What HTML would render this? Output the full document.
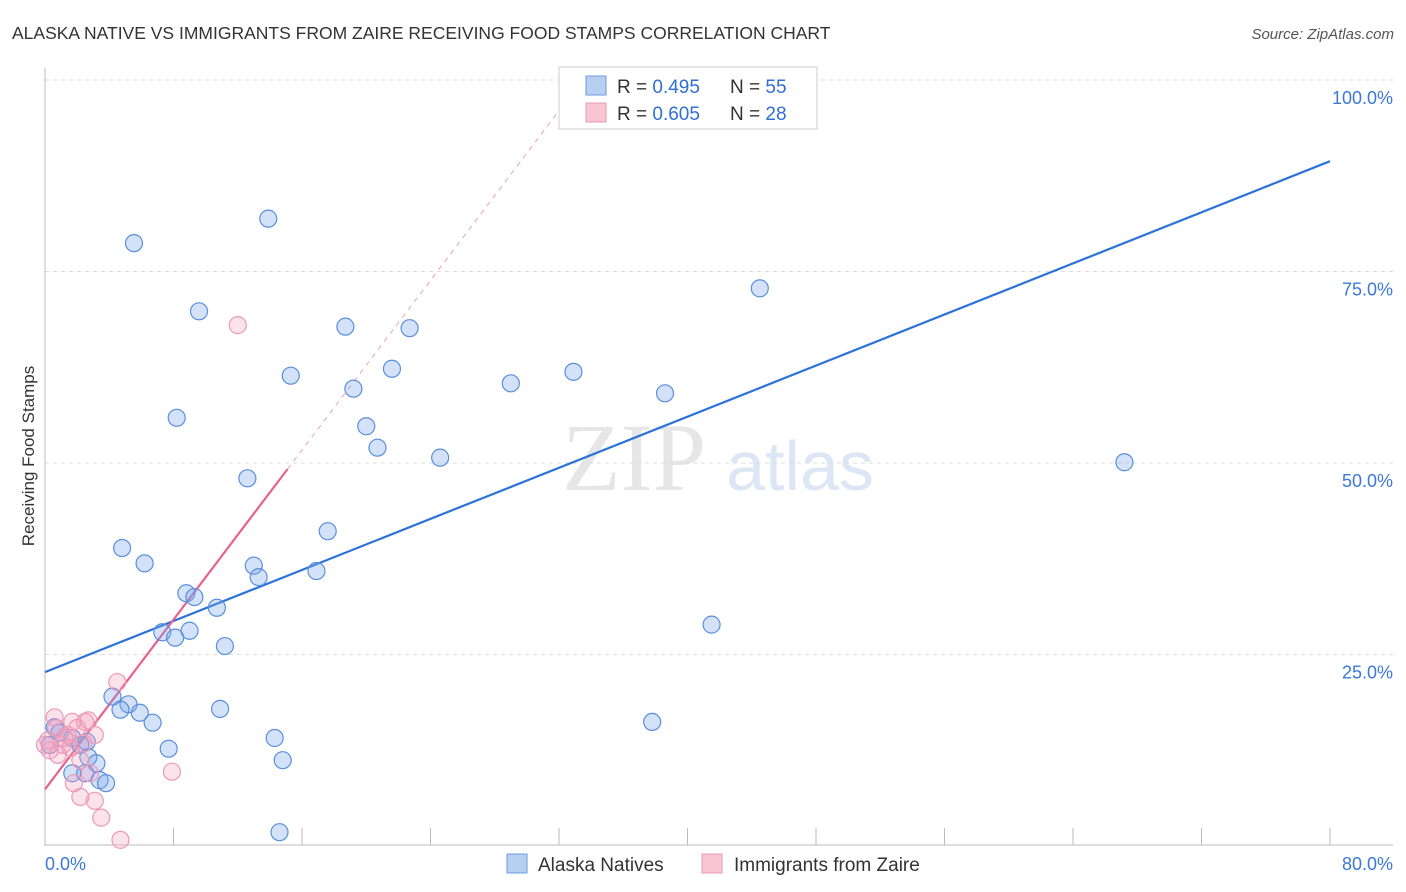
<!DOCTYPE html>
<html><head><meta charset="utf-8"><style>
body{margin:0;background:#fff;font-family:"Liberation Sans",sans-serif;}
</style></head><body>
<svg width="1406" height="892" xmlns="http://www.w3.org/2000/svg" style="display:block">
<text x="12" y="39" font-size="17.5" fill="#333">ALASKA NATIVE VS IMMIGRANTS FROM ZAIRE RECEIVING FOOD STAMPS CORRELATION CHART</text>
<text x="1394" y="39" font-size="15" fill="#555" text-anchor="end" font-style="italic">Source: ZipAtlas.com</text>
<text x="634" y="490" font-size="96" fill="#e6e6e6" text-anchor="middle" font-family="Liberation Serif,serif">ZIP</text>
<text x="800" y="490" font-size="70" fill="#dce6f5" text-anchor="middle">atlas</text>
<g id="grid"></g>
<g id="axes"></g>
<text transform="translate(34,456) rotate(-90)" font-size="17" fill="#333" text-anchor="middle">Receiving Food Stamps</text>
<g id="lines"></g>
<g id="pts"></g>
<g>
<rect x="559" y="67" width="258" height="62" fill="#fff" stroke="#ccc"/>
<rect x="586" y="76" width="20" height="19" fill="#b7d0f2" stroke="#6c9ae0"/>
<rect x="586" y="103" width="20" height="19" fill="#f8c5d4" stroke="#e89ab5"/>
<text x="617" y="93" font-size="19" fill="#333">R = <tspan fill="#2f6fd6">0.495</tspan><tspan x="730">N = </tspan><tspan fill="#2f6fd6">55</tspan></text>
<text x="617" y="120" font-size="19" fill="#333">R = <tspan fill="#2f6fd6">0.605</tspan><tspan x="730">N = </tspan><tspan fill="#2f6fd6">28</tspan></text>
</g>
<g>
<rect x="507" y="854" width="20" height="19" fill="#b7d0f2" stroke="#6c9ae0"/>
<text x="538" y="871" font-size="19" fill="#333">Alaska Natives</text>
<rect x="702" y="854" width="20" height="19" fill="#f8c5d4" stroke="#e89ab5"/>
<text x="734" y="871" font-size="19" fill="#333">Immigrants from Zaire</text>
</g>
</svg>
<script>
const yTicks=[25,50,75,100];
const yTickLabels=["25.0%","50.0%","75.0%","100.0%"];
const xEndLabels=["0.0%","80.0%"];
const blueX=[5.54,13.9,9.59,18.7,22.7,15.3,21.6,19.2,29.0,32.9,38.6,44.5,8.2,20.0,20.7,24.6,67.2,12.6,17.6,4.8,6.2,13.0,13.3,16.9,8.8,9.3,10.7,7.3,8.1,9.0,11.2,41.5,4.2,5.2,4.7,5.9,6.7,10.9,37.8,7.7,14.3,14.8,14.6,0.6,0.3,0.9,1.7,2.2,2.7,3.2,1.7,2.5,3.4,3.8,2.6];
const blueY=[78.7,81.9,69.8,67.8,67.6,61.4,62.3,59.7,60.4,61.9,59.1,72.8,55.9,54.8,52.0,50.7,50.1,48.0,41.1,38.9,36.9,36.6,35.1,35.9,33.0,32.5,31.1,27.9,27.2,28.1,26.1,28.9,19.5,18.5,17.8,17.4,16.1,17.9,16.2,12.7,14.1,11.2,1.8,15.5,13.2,14.8,14.1,13.2,11.6,10.8,9.5,9.5,8.6,8.2,13.6];
const pinkX=[12.0,4.5,0.6,0.7,0.2,1.4,1.7,2.5,2.4,1.1,1.6,0.3,2.2,2.8,1.8,2.2,3.1,3.5,4.7,7.9,2.7,1.2,2.0,3.1,0.8,0.0];
const pinkY=[68.0,21.4,16.8,15.4,13.8,14.5,16.2,16.2,13.4,13.2,12.8,12.5,11.2,9.5,8.2,6.4,5.9,3.7,0.8,9.7,16.4,14.1,15.4,14.5,11.9,13.2];
const blueLine=[22.7,89.4];
const pinkLine=[7.4,49.2];
const pinkLineEnd=15.1;
const X=v=>45+v*(1285/80), Y=v=>846-v*7.66;
const NS="http://www.w3.org/2000/svg";
function mk(p,t,a){const e=document.createElementNS(NS,t);for(const k in a)e.setAttribute(k,a[k]);p.appendChild(e);return e;}
const grid=document.getElementById('grid'),axes=document.getElementById('axes'),lines=document.getElementById('lines'),pts=document.getElementById('pts');
yTicks.forEach((t,i)=>{
 const g=mk(grid,'line',{x1:45,x2:1393,y1:Y(t),y2:Y(t),stroke:'#ddd','stroke-dasharray':'4,4'});
 
 
 const l=mk(grid,'text',{x:1393,y:Y(t)+24,'font-size':18,fill:'#3b78d8','text-anchor':'end'});
 l.textContent=yTickLabels[i];
 
 
});
mk(axes,'line',{x1:45,x2:45,y1:68,y2:846,stroke:'#bbb'});
mk(axes,'line',{x1:45,x2:1393,y1:845,y2:845,stroke:'#bbb'});
for(let i=0;i<=10;i++){const t=mk(axes,'line',{x1:X(i*8),x2:X(i*8),y1:828,y2:845,stroke:'#bbb'});
 
 }
const a=mk(axes,'text',{x:45,y:870,'font-size':18,fill:'#3b78d8'});a.textContent=xEndLabels[0];


const b=mk(axes,'text',{x:1393,y:870,'font-size':18,fill:'#3b78d8','text-anchor':'end'});b.textContent=xEndLabels[1];


const bl=mk(lines,'line',{x1:X(0),y1:Y(blueLine[0]),x2:X(80),y2:Y(blueLine[1]),stroke:'#2b72d9','stroke-width':2.2});


const slope=(pinkLine[1]-pinkLine[0])/pinkLineEnd;
const xd=(100-pinkLine[0])/slope;
const pd=mk(lines,'line',{x1:X(pinkLineEnd),y1:Y(pinkLine[1]),x2:X(xd),y2:Y(100),stroke:'#e8a0b8','stroke-width':1,'stroke-dasharray':'5,5'});


const pl=mk(lines,'line',{x1:X(0),y1:Y(pinkLine[0]),x2:X(pinkLineEnd),y2:Y(pinkLine[1]),stroke:'#e8608e','stroke-width':2.2});


blueX.forEach((x,i)=>{const c=mk(pts,'circle',{cx:X(x),cy:Y(blueY[i]),r:8.5,fill:'rgba(120,165,235,0.32)',stroke:'#5a8fdc','stroke-width':1.2});
 
 });
pinkX.forEach((x,i)=>{const c=mk(pts,'circle',{cx:X(x),cy:Y(pinkY[i]),r:8.5,fill:'rgba(245,160,190,0.3)',stroke:'#eb9ab6','stroke-width':1.2});
 
 });
</script>
</body></html>
